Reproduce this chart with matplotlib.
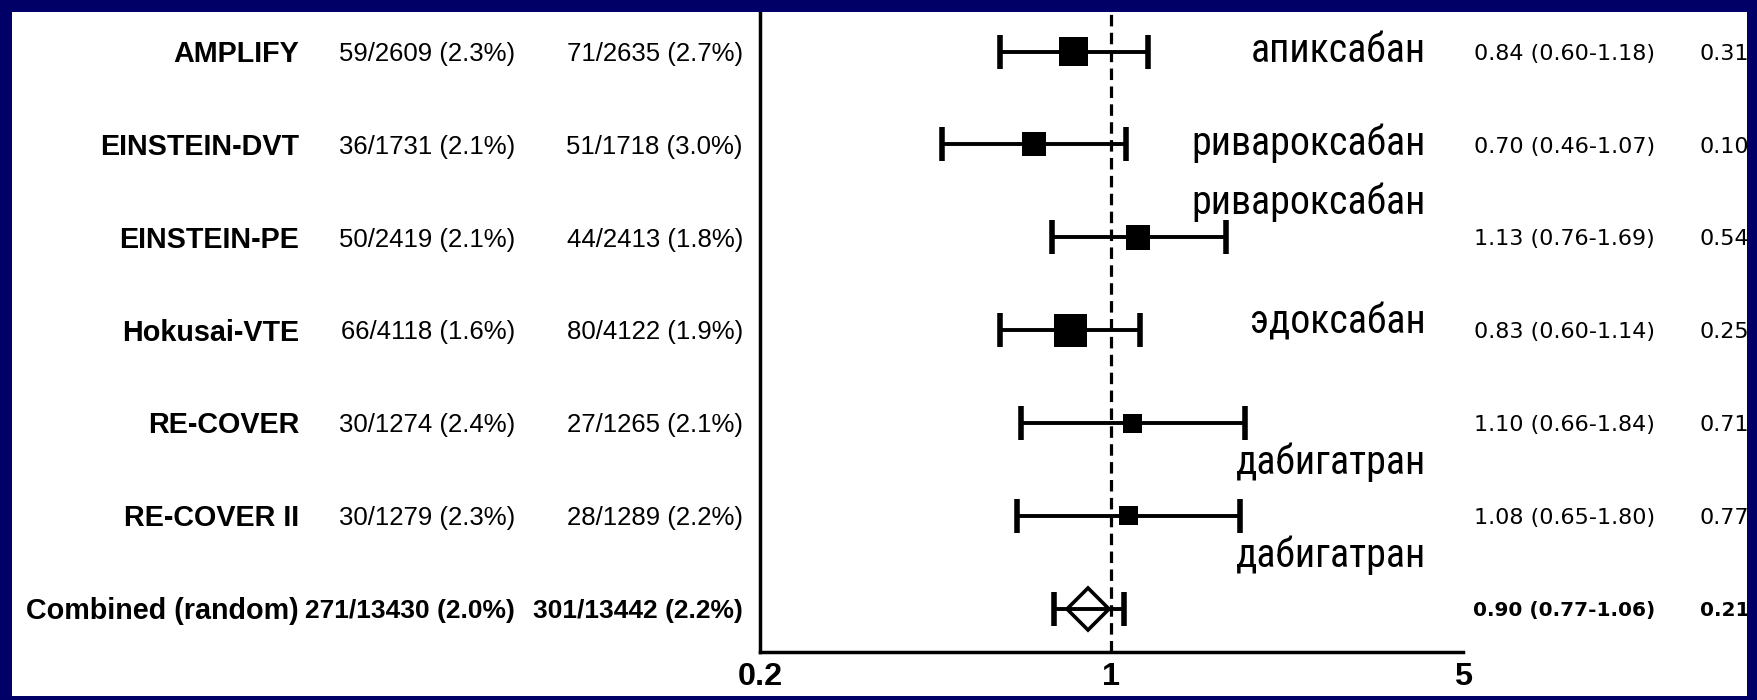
import matplotlib
matplotlib.use("Agg")
import matplotlib.pyplot as plt
import matplotlib.transforms as mtransforms
from matplotlib import font_manager
from matplotlib.patches import Rectangle
from matplotlib.ticker import NullLocator
import numpy as np

# --- data ---
studies = ["AMPLIFY", "EINSTEIN-DVT", "EINSTEIN-PE", "Hokusai-VTE",
           "RE-COVER", "RE-COVER II", "Combined (random)"]
events_noac = ["59/2609 (2.3%)", "36/1731 (2.1%)", "50/2419 (2.1%)", "66/4118 (1.6%)",
               "30/1274 (2.4%)", "30/1279 (2.3%)", "271/13430 (2.0%)"]
events_vka = ["71/2635 (2.7%)", "51/1718 (3.0%)", "44/2413 (1.8%)", "80/4122 (1.9%)",
              "27/1265 (2.1%)", "28/1289 (2.2%)", "301/13442 (2.2%)"]
hazard_ratio = [0.84, 0.70, 1.13, 0.83, 1.10, 1.08, 0.90]
ci_low = [0.60, 0.46, 0.76, 0.60, 0.66, 0.65, 0.77]
ci_high = [1.18, 1.07, 1.69, 1.14, 1.84, 1.80, 1.06]
p_values = ["0.31", "0.10", "0.54", "0.25", "0.71", "0.77", "0.21"]
drug_names = ["апиксабан", "ривароксабан", "ривароксабан", "эдоксабан",
              "дабигатран", "дабигатран"]
x_ticks = [0.2, 1, 5]
x_tick_labels = ["0.2", "1", "5"]

# --- layout (pixels of the 1758x700 picture) ---
W, H = 1758, 700
NAVY = "#000066"
ROW0_PX, ROW_STEP = 51.6, 92.87
AX_LEFT, AX_RIGHT, AX_TOP, AX_BOTTOM = 760, 1463, 12, 652
square_px = [29, 24, 24.5, 33, 19, 19]
drug_row_shift = [0.0, 0.0, -0.36, -0.08, 0.44, 0.44]
PX = 72 / 100  # points per pixel


def has_font(name):
    try:
        font_manager.findfont(font_manager.FontProperties(family=name),
                              fallback_to_default=False)
        return True
    except ValueError:
        return False


plt.rcParams["font.family"] = ["Liberation Sans", "DejaVu Sans"]

fig = plt.figure(figsize=(W / 100, H / 100), dpi=100, facecolor="white")
ax = fig.add_axes([AX_LEFT / W, 1 - AX_BOTTOM / H,
                   (AX_RIGHT - AX_LEFT) / W, (AX_BOTTOM - AX_TOP) / H])
ax.patch.set_visible(False)
ax.set_xscale("log")
ax.set_xlim(x_ticks[0], x_ticks[-1])
ax.set_ylim((AX_BOTTOM - ROW0_PX) / ROW_STEP, (AX_TOP - ROW0_PX) / ROW_STEP)

rows = np.arange(len(studies))
hr = np.array(hazard_ratio)
lo = np.array(ci_low)
hi = np.array(ci_high)

# reference line at HR = 1
ax.axvline(1, color="black", lw=2.3, linestyle=(0, (3.6, 2.0)), zorder=1)

# confidence intervals
ax.errorbar(hr, rows, xerr=[hr - lo, hi - hr], fmt="none", ecolor="black",
            elinewidth=2.8, capsize=12.5, capthick=4.0, zorder=2)

# study squares, combined diamond
ax.scatter(hr[:-1], rows[:-1], marker="s", s=(np.array(square_px) * PX) ** 2,
           color="black", linewidths=0, zorder=3)
ax.plot(hr[-1:], rows[-1:], marker="D", ms=21.5, mfc="none", mec="black",
        mew=2.6, linestyle="none", zorder=3)

for side in ["top", "right"]:
    ax.spines[side].set_visible(False)
for side in ["left", "bottom"]:
    ax.spines[side].set_linewidth(2.5)
ax.set_yticks([])
ax.set_xticks(x_ticks)
ax.set_xticklabels(x_tick_labels, fontsize=23.3, fontweight="bold")
ax.xaxis.set_minor_locator(NullLocator())
ax.tick_params(axis="x", length=0, pad=7)

row_trans = mtransforms.blended_transform_factory(fig.transFigure, ax.transData)


def row_text(x_px, y_row, text, size, ha, weight="normal", mid=0.716, family=None):
    """Put text with its letter middle on a table row."""
    shift = mtransforms.ScaledTranslation(0, -mid * size / 2 / 72, fig.dpi_scale_trans)
    kwargs = {"family": family} if family else {}
    fig.text(x_px / W, y_row, text, transform=row_trans + shift, fontsize=size,
             ha=ha, va="baseline", fontweight=weight, color="black", **kwargs)


wide = ["DejaVu Sans"]
last = len(studies) - 1
for i, row in enumerate(rows):
    is_total = i == last
    bold = "bold" if is_total else "normal"
    row_text(299, row, studies[i], 20.7, "right", weight="bold")
    row_text(515, row, events_noac[i], 19 if is_total else 18.5, "right", weight=bold)
    row_text(743, row, events_vka[i], 19 if is_total else 18.5, "right", weight=bold)
    hr_text = f"{hazard_ratio[i]:.2f} ({ci_low[i]:.2f}-{ci_high[i]:.2f})"
    row_text(1655, row, hr_text, 14.5 if is_total else 16, "right", weight=bold,
             mid=0.729, family=wide)
    row_text(1700, row, p_values[i], 14.5 if is_total else 16, "left", weight=bold,
             mid=0.729, family=wide)

# drug names: the slide uses a narrow face
if has_font("Roboto Condensed"):
    drug_family, drug_size, drug_mid = ["Roboto Condensed", "DejaVu Sans"], 28.7, 0.528
else:
    drug_family, drug_size, drug_mid = ["Liberation Sans", "DejaVu Sans"], 26.6, 0.519
for i, name in enumerate(drug_names):
    row_text(1426, rows[i] + drug_row_shift[i], name, drug_size, "right",
             mid=drug_mid, family=drug_family)

# navy slide frame drawn over everything
for x0, y0, w, h in [(0, 0, 12, H), (1747, 0, W - 1747, H),
                     (0, 0, W, 12), (0, 696, W, H - 696)]:
    fig.add_artist(Rectangle((x0 / W, 1 - (y0 + h) / H), w / W, h / H,
                             transform=fig.transFigure, facecolor=NAVY,
                             edgecolor="none", zorder=10))

fig.savefig("out.png", dpi=100, facecolor=fig.get_facecolor())
